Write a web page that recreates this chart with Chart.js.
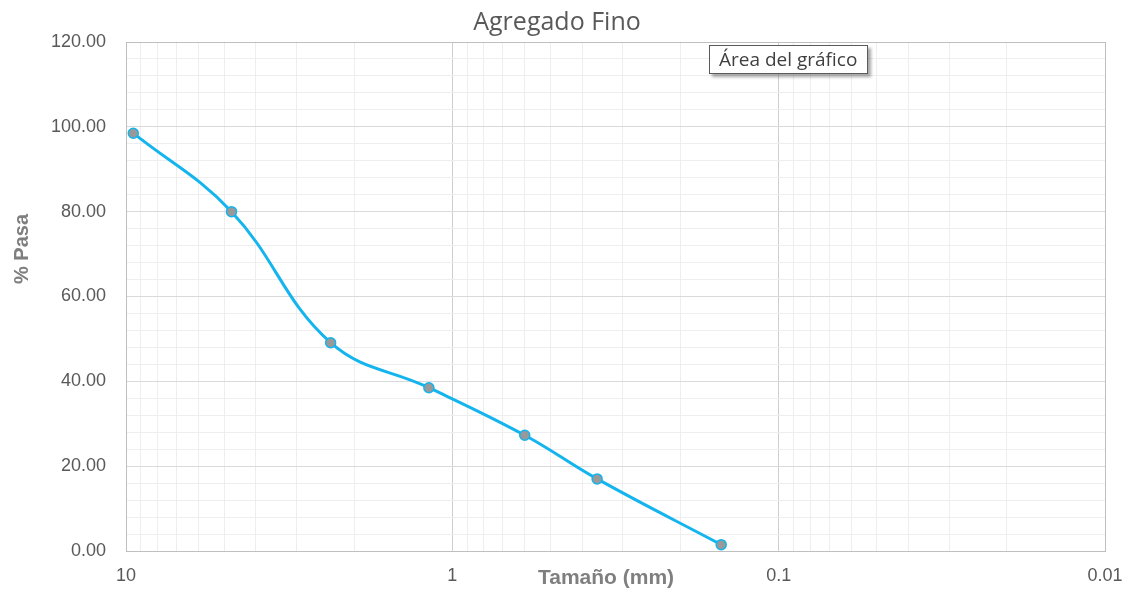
<!DOCTYPE html>
<html>
<head>
<meta charset="utf-8">
<script src="https://cdn.jsdelivr.net/npm/chart.js@4/dist/chart.umd.min.js"></script>
<style>
  html, body { margin: 0; padding: 0; background: #ffffff; }
  #wrap { position: relative; width: 1134px; height: 591px; }
  #tip {
    position: absolute; left: 709px; top: 45px; width: 159px; height: 29px;
    padding: 0 0 0 9px; box-sizing: border-box;
    border: 1px solid #5a5a5a; background: #ffffff;
    font: 19px "Open Sans", sans-serif; color: #404040; line-height: 26px;
    box-shadow: 3px 3px 3px rgba(0,0,0,0.35);
    white-space: nowrap;
  }
</style>
</head>
<body>
<div id="wrap">
  <canvas id="c" width="1134" height="591"></canvas>
  <div id="tip">Área del gráfico</div>
</div>
<script>
// Sieve opening (mm) and cumulative percentage passing
const sizesMm = [9.5, 4.75, 2.36, 1.18, 0.6, 0.36, 0.15];
const percentPassing = [98.5, 80.0, 49.1, 38.5, 27.3, 17.0, 1.5];

// Labelled decades on the size axis
const xTickLabels = [10, 1, 0.1, 0.01];
// Labelled steps on the % axis
const yTickLabels = [0, 20, 40, 60, 80, 100, 120];

const chartTitle = 'Agregado Fino';
const xTitle = 'Tamaño (mm)';
const yTitle = '% Pasa';

const points = sizesMm.map((s, i) => ({ x: s, y: percentPassing[i] }));

// every 1..9 x 10^n between the outer decades, for the log grid
const xGridValues = [];
for (let e = -2; e <= 0; e++) {
  for (let m = 1; m <= 9; m++) xGridValues.push(+(m * Math.pow(10, e)).toPrecision(3));
}
xGridValues.push(10);

const isDecade = v => xTickLabels.some(d => Math.abs(d - v) < 1e-9);
const isMajorY = v => yTickLabels.includes(v);

const BORDER = '#bfbfbf';

const textPlugin = {
  id: 'texts',
  afterDraw(chart) {
    const ctx = chart.ctx;
    ctx.save();
    ctx.textAlign = 'center';
    ctx.textBaseline = 'middle';
    ctx.fillStyle = '#595959';
    ctx.font = '25px "Open Sans", sans-serif';
    ctx.fillText(chartTitle, 557, 23);

    ctx.fillStyle = '#7f7f7f';
    ctx.font = 'bold 21px "Liberation Sans", Arial, sans-serif';
    ctx.fillText(xTitle, 606, 578);

    ctx.translate(22, 249);
    ctx.rotate(-Math.PI / 2);
    ctx.font = 'bold 20px "Liberation Sans", Arial, sans-serif';
    ctx.fillText(yTitle, 0, 0);
    ctx.restore();
  }
};

new Chart(document.getElementById('c'), {
  type: 'line',
  data: {
    datasets: [{
      data: points,
      borderColor: '#14b4ee',
      borderWidth: 3,
      tension: 0.4,
      pointRadius: 5,
      pointBorderWidth: 1.5,
      pointBackgroundColor: '#999999',
      pointBorderColor: '#14b4ee',
      fill: false
    }]
  },
  options: {
    responsive: false,
    animation: false,
    layout: { padding: { top: 42, right: 29, left: 0, bottom: 0 } },
    plugins: { legend: { display: false }, tooltip: { enabled: false }, title: { display: false } },
    scales: {
      x: {
        type: 'logarithmic',
        reverse: true,
        min: 0.01,
        max: 10,
        afterBuildTicks: scale => { scale.ticks = xGridValues.map(v => ({ value: v })); },
        afterFit: scale => { scale.height = 40; },
        ticks: {
          autoSkip: false,
          maxRotation: 0,
          padding: 14,
          color: '#595959',
          font: { family: '"Liberation Sans", Arial, sans-serif', size: 18 },
          callback: v => isDecade(v) ? String(v) : ''
        },
        grid: {
          drawTicks: false,
          color: ctx => {
            const v = ctx.tick && ctx.tick.value;
            if (v === 0.01 || v === 10) return BORDER;
            return isDecade(v) ? '#cfcfcf' : '#eeeeee';
          },
          lineWidth: 1
        },
        border: { color: BORDER, width: 1 }
      },
      y: {
        min: 0,
        max: 120,
        afterFit: scale => { scale.width = 126; },
        ticks: {
          stepSize: 4,
          autoSkip: false,
          padding: 20,
          color: '#595959',
          font: { family: '"Liberation Sans", Arial, sans-serif', size: 18 },
          callback: v => isMajorY(v) ? v.toFixed(2) : ''
        },
        grid: {
          drawTicks: false,
          color: ctx => {
            const v = ctx.tick && ctx.tick.value;
            if (v === 120) return BORDER;
            return isMajorY(v) ? '#d9d9d9' : '#eeeeee';
          },
          lineWidth: 1
        },
        border: { color: BORDER, width: 1 }
      }
    }
  },
  plugins: [textPlugin]
});
</script>
</body>
</html>
